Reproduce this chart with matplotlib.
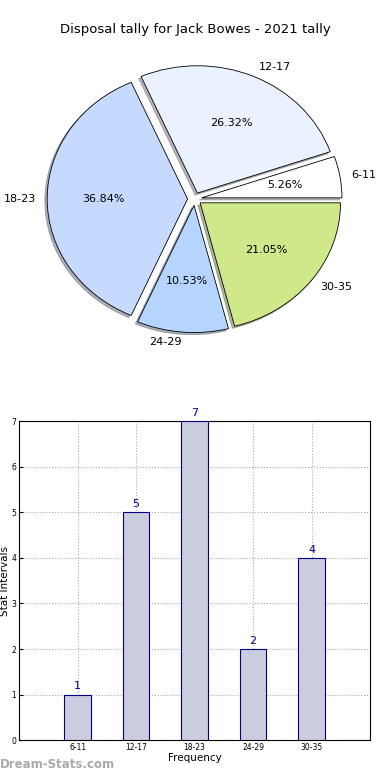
import matplotlib
matplotlib.use("Agg")
import matplotlib.pyplot as plt

# Disposal tally data
CATEGORIES = ["6-11", "12-17", "18-23", "24-29", "30-35"]
COUNTS = [1, 5, 7, 2, 4]
PIE_COLORS = ["#ffffff", "#eaf1ff", "#c6d9ff", "#b5d5ff", "#cfe98a"]
TITLE = "Disposal tally for Jack Bowes - 2021 tally"


def plot_pie(fig):
    ax = fig.add_axes([0.049, 0.541, 0.9, 0.408])
    ax.pie(COUNTS, labels=CATEGORIES, colors=PIE_COLORS,
           explode=[0.05] * len(COUNTS), autopct='%1.2f%%',
           shadow={'ox': -0.012, 'oy': -0.012, 'shade': 0.55},
           startangle=0, labeldistance=1.08,
           wedgeprops={'edgecolor': 'black', 'linewidth': 0.6},
           textprops={'fontsize': 8})
    ax.set_aspect('auto')
    ax.set_xlim(-1.25, 1.25)
    ax.set_ylim(-1.25, 1.25)
    fig.text(0.5, 0.962, TITLE, ha='center', va='center', fontsize=9.5)


def plot_bars(fig):
    ax = fig.add_axes([0.049, 0.051, 0.9, 0.409])
    x = list(range(1, len(COUNTS) + 1))
    ax.bar(x, COUNTS, width=0.45, color='#ccccdf', edgecolor='navy',
           linewidth=0.8, zorder=3)
    for xi, v in zip(x, COUNTS):
        ax.text(xi, v + 0.07, str(v), ha='center', va='bottom',
                color='navy', fontsize=8)
    ax.set_xlim(0, 6)
    ax.set_ylim(0, 7)
    ax.set_xticks(x)
    ax.set_xticklabels(CATEGORIES)
    ax.tick_params(labelsize=5.5, length=3, direction='in', pad=2)
    ax.grid(True, linestyle=':', color='#aaaaaa', linewidth=0.8, zorder=0)
    ax.set_xlabel("Frequency", fontsize=7.5, labelpad=1)
    ax.set_ylabel("Stat Intervals", fontsize=7.5, labelpad=1)
    fig.text(0.0, 0.012, "Dream-Stats.com", color='#aaaaaa',
             fontsize=8.5, fontweight='bold', ha='left', va='bottom')


def main():
    fig = plt.figure(figsize=(3.9, 7.8), dpi=100)
    plot_pie(fig)
    plot_bars(fig)
    fig.savefig("out.png", dpi=100)


if __name__ == "__main__":
    main()
